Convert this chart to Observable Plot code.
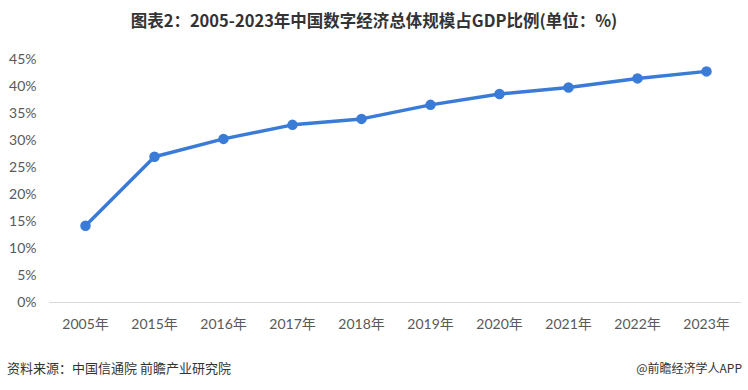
<!DOCTYPE html>
<html>
<head>
<meta charset="utf-8">
<script src="https://cdn.jsdelivr.net/npm/d3@7"></script>
<script src="https://cdn.jsdelivr.net/npm/@observablehq/plot@0.6"></script>
<style>
  html, body { margin: 0; padding: 0; background: #fff; }
  #wrap { width: 748px; height: 390px; position: relative; overflow: hidden; font-family: "Noto Sans CJK SC", sans-serif; }
  #title { height: 40px; line-height: 40px; text-align: center; font-size: 16.5px; font-weight: bold; color: #333; }
  #chart { height: 300px; }
  #footer { position: absolute; left: 0; right: 0; top: 359px; font-size: 12px; color: #333; }
  #footer .l { position: absolute; left: 7px; font-size: 13px; top: -1px; }
  #footer .r { position: absolute; right: 6px; }
</style>
</head>
<body>
<div id="wrap">
  <div id="title">图表2：2005-2023年中国数字经济总体规模占GDP比例(单位：%)</div>
  <div id="chart"></div>
  <div id="footer"><span class="l">资料来源：中国信通院 前瞻产业研究院</span><span class="r">@前瞻经济学人APP</span></div>
</div>
<script>
const years = ["2005年", "2015年", "2016年", "2017年", "2018年", "2019年", "2020年", "2021年", "2022年", "2023年"];
const shares = [14.2, 27.0, 30.3, 32.9, 34.0, 36.6, 38.6, 39.8, 41.5, 42.8];
const yTicks = [0, 5, 10, 15, 20, 25, 30, 35, 40, 45];

const data = years.map((y, i) => ({year: y, value: shares[i]}));
const blue = "#3a7bd8";

const chart = Plot.plot({
  width: 748,
  height: 300,
  marginTop: 19,
  marginBottom: 38,
  marginLeft: 49,
  marginRight: 7,
  style: {fontFamily: "Lato, 'Noto Sans CJK SC', sans-serif", fontSize: "14px", color: "#595959", background: "transparent"},
  x: {type: "point", domain: years, padding: 0.5, label: null},
  y: {domain: [0, 45], label: null},
  marks: [
    Plot.ruleY([0], {stroke: "#d9d9d9", strokeWidth: 1}),
    Plot.axisY({ticks: yTicks, tickSize: 0, tickPadding: 13, tickFormat: d => d + "%", fill: "#595959", fontSize: 14}),
    Plot.axisX({tickSize: 0, tickPadding: 17, fill: "#595959", fontSize: 14}),
    Plot.line(data, {x: "year", y: "value", stroke: blue, strokeWidth: 3.5}),
    Plot.dot(data, {x: "year", y: "value", r: 4.5, fill: blue, stroke: blue})
  ]
});
document.getElementById("chart").appendChild(chart);
</script>
</body>
</html>
